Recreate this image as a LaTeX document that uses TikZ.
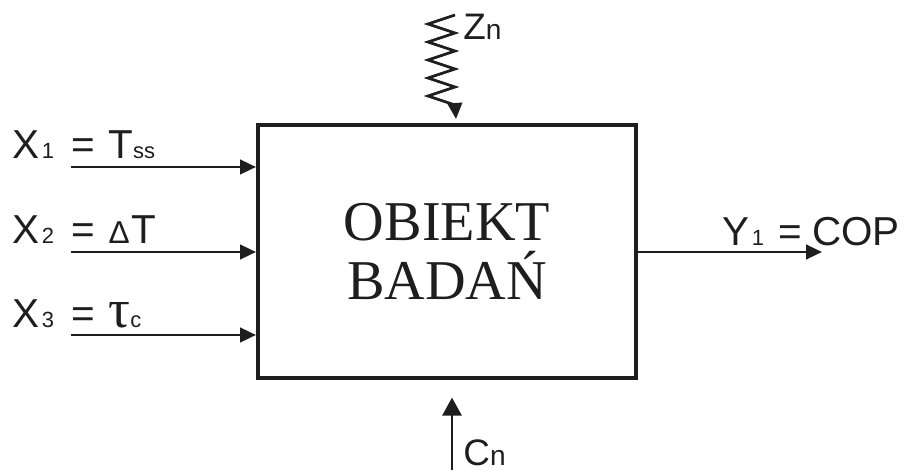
\documentclass[tikz,border=0pt]{standalone}
\usepackage{fontspec}
\setmainfont{Liberation Sans}
\newfontfamily\boxserif{Liberation Serif}
\usetikzlibrary{arrows.meta,calc}
\definecolor{diagink}{HTML}{1E1E1E}
\newcommand{\lowtxt}[1]{{\fontsize{12.5}{12.5}\selectfont #1}}
\newcommand{\idxtxt}[1]{{\fontsize{16}{16}\selectfont #1}}
\tikzset{
  siglabel/.style={font=\fontsize{23}{23}\selectfont, text=diagink, anchor=base west, inner sep=0pt},
  bigletter/.style={font=\fontsize{21}{21}\selectfont, text=diagink, anchor=base west, inner sep=0pt},
  objbox/.style={draw=diagink, line width=2.3pt, minimum width=7.56cm, minimum height=5.06cm,
    inner sep=0pt, align=center, text=diagink,
    font=\boxserif\fontsize{32}{34}\selectfont},
  sigflow/.style={-{Triangle[length=0.32cm,width=0.29cm]}, draw=diagink, line width=1.6pt},
  sigflowbig/.style={-{Triangle[length=0.36cm,width=0.38cm]}, draw=diagink, line width=1.6pt}
}
\begin{document}
\begin{tikzpicture}[x=0.02cm,y=0.02cm]
  \useasboundingbox (0,0) rectangle (911,470);
  % research object with its inputs, output and disturbances
  \node[objbox] (obj) at (447,218.5) {OBIEKT\\BADAŃ};

  \coordinate (x1in) at (71,303);
  \coordinate (x2in) at (71,218);
  \coordinate (x3in) at (71,135);
  \coordinate (y1out) at (822,218);
  \coordinate (znin) at (455,455);
  \coordinate (cnin) at (452,0);

  \node[siglabel] (lblx1) at (12,311) {X\hspace{1.5pt}\lowtxt{1}\hspace{10pt}=\hspace{7.5pt}T\lowtxt{ss}};
  \node[siglabel] (lblx2) at (12,227) {X\hspace{1.5pt}\lowtxt{2}\hspace{10pt}=\hspace{7.5pt}{\fontsize{18}{18}\selectfont Δ}\hspace{1pt}T};
  \node[siglabel] (lblx3) at (12,143) {X\hspace{1.5pt}\lowtxt{3}\hspace{10pt}=\hspace{7.5pt}{\boxserif\fontsize{31}{31}\selectfont τ}\lowtxt{c}};
  \node[siglabel] (lbly1) at (722,225) {Y\hspace{1.5pt}\lowtxt{1}\hspace{8pt}=\hspace{6pt}COP};
  \node[bigletter] (lblzn) at (463,430) {Z\idxtxt{n}};
  \node[bigletter] (lblcn) at (463,5) {C\idxtxt{n}};

  \draw[sigflow] (x1in) -- (x1in -| obj.west);
  \draw[sigflow] (x2in) -- (x2in -| obj.west);
  \draw[sigflow] (x3in) -- (x3in -| obj.west);
  \draw[sigflow] (obj.east |- y1out) -- (y1out);

  \draw[sigflow, line join=miter] (znin)
    \foreach \k in {1,...,5} { -- ++(-27,-9) -- ++(27,-9) } -- ++(1,-14);
  \draw[sigflowbig, shorten >=10] (cnin) -- (cnin |- obj.south);
\end{tikzpicture}
\end{document}
